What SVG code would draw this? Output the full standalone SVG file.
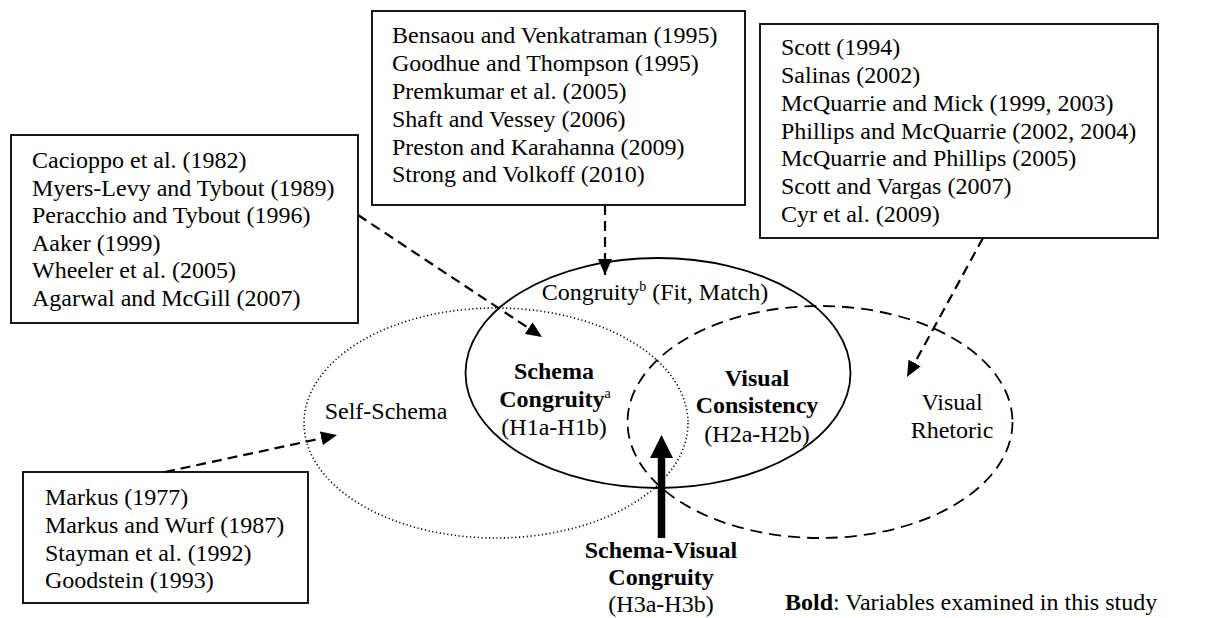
<svg xmlns="http://www.w3.org/2000/svg" width="1209" height="618" viewBox="0 0 1209 618" font-family="'Liberation Serif', 'Times New Roman', Tinos, 'DejaVu Serif', serif">
  <style>
    text { font-family: "Liberation Serif", "Times New Roman", Tinos, "DejaVu Serif", serif; font-size: 24px; fill: #000; }
    .c { text-anchor: middle; }
    .b { font-weight: bold; }
    .sup { font-size: 14px; font-weight: normal; }
    .box { fill: #fff; stroke: #000; stroke-width: 1.8; }
    .link { fill: none; stroke: #000; stroke-width: 2.2; stroke-dasharray: 10 6; }
    .solid { fill: none; stroke: #000; stroke-width: 1.8; }
    .dotted { fill: none; stroke: #000; stroke-width: 1.6; stroke-dasharray: 1.2 2.6; }
    .dashed { fill: none; stroke: #000; stroke-width: 1.8; stroke-dasharray: 12 7; }
  </style>
  <defs>
    <marker id="head" viewBox="0 0 16 14" refX="16" refY="7" markerWidth="16" markerHeight="14" markerUnits="userSpaceOnUse" orient="auto">
      <path d="M0,0 L16,7 L0,14 Z" fill="#000"/>
    </marker>
  </defs>

  <rect width="1209" height="618" fill="#fff"/>

  <!-- construct ellipses -->
  <g id="self-schema">
    <ellipse class="dotted" cx="496" cy="423" rx="192" ry="115"/>
    <text class="c" x="386" y="419">Self-Schema</text>
  </g>
  <g id="congruity">
    <ellipse class="solid" cx="658" cy="373" rx="192.5" ry="115"/>
    <text class="c" x="655" y="300">Congruity<tspan class="sup" dy="-9">b</tspan><tspan dy="9"> (Fit, Match)</tspan></text>
  </g>
  <g id="visual-rhetoric">
    <ellipse class="dashed" cx="820" cy="422" rx="192.5" ry="116"/>
    <text class="c" x="952" y="410">Visual</text>
    <text class="c" x="952" y="438">Rhetoric</text>
  </g>
  <g id="schema-congruity">
    <text class="c b" x="554" y="379">Schema</text>
    <text class="c b" x="555" y="407">Congruity<tspan class="sup" dy="-9">a</tspan></text>
    <text class="c" x="554" y="435">(H1a-H1b)</text>
  </g>
  <g id="visual-consistency">
    <text class="c b" x="757" y="386">Visual</text>
    <text class="c b" x="757" y="413">Consistency</text>
    <text class="c" x="757" y="442">(H2a-H2b)</text>
  </g>
  <g id="schema-visual-congruity">
    <text class="c b" x="661" y="558">Schema-Visual</text>
    <text class="c b" x="661" y="585">Congruity</text>
    <text class="c" x="661" y="612">(H3a-H3b)</text>
  </g>

  <!-- literature boxes -->
  <g id="refs-schema">
    <rect class="box" x="11" y="135" width="347" height="188"/>
    <text x="32" y="168">Cacioppo et al. (1982)</text>
    <text x="32" y="195.5">Myers-Levy and Tybout (1989)</text>
    <text x="32" y="223">Peracchio and Tybout (1996)</text>
    <text x="32" y="250.5">Aaker (1999)</text>
    <text x="32" y="278">Wheeler et al. (2005)</text>
    <text x="32" y="305.5">Agarwal and McGill (2007)</text>
  </g>
  <g id="refs-fit">
    <rect class="box" x="372" y="11" width="373" height="194"/>
    <text x="392" y="43">Bensaou and Venkatraman (1995)</text>
    <text x="392" y="71">Goodhue and Thompson (1995)</text>
    <text x="392" y="99">Premkumar et al. (2005)</text>
    <text x="392" y="126.5">Shaft and Vessey (2006)</text>
    <text x="392" y="154.5">Preston and Karahanna (2009)</text>
    <text x="392" y="182">Strong and Volkoff (2010)</text>
  </g>
  <g id="refs-rhetoric">
    <rect class="box" x="760" y="24" width="398" height="214"/>
    <text x="781" y="55">Scott (1994)</text>
    <text x="781" y="83">Salinas (2002)</text>
    <text x="781" y="110.5">McQuarrie and Mick (1999, 2003)</text>
    <text x="781" y="138.5">Phillips and McQuarrie (2002, 2004)</text>
    <text x="781" y="166">McQuarrie and Phillips (2005)</text>
    <text x="781" y="194">Scott and Vargas (2007)</text>
    <text x="781" y="222">Cyr et al. (2009)</text>
  </g>
  <g id="refs-self">
    <rect class="box" x="23" y="472" width="285" height="131"/>
    <text x="45" y="505">Markus (1977)</text>
    <text x="45" y="533">Markus and Wurf (1987)</text>
    <text x="45" y="560.5">Stayman et al. (1992)</text>
    <text x="45" y="588">Goodstein (1993)</text>
  </g>

  <!-- connectors -->
  <g id="connectors">
    <path class="link" d="M358,215 L542,337" marker-end="url(#head)"/>
    <path class="link" d="M605,205 L605,275" marker-end="url(#head)"/>
    <path class="link" d="M983,238 L907,377" marker-end="url(#head)"/>
    <path class="link" d="M165,472 L337,435" marker-end="url(#head)"/>
    <line x1="661.5" y1="538" x2="661.5" y2="455" stroke="#000" stroke-width="7.5"/>
    <polygon points="650,458 673,458 661.5,435" fill="#000"/>
  </g>

  <!-- legend -->
  <text x="785" y="610"><tspan class="b">Bold</tspan>: Variables examined in this study</text>
</svg>
